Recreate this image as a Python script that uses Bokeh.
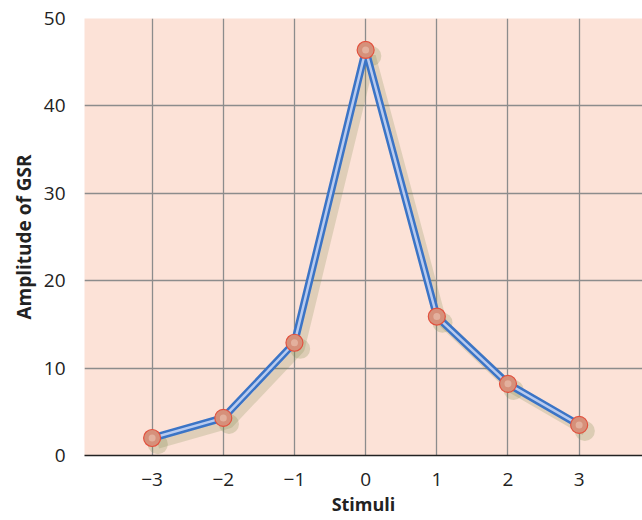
from bokeh.plotting import figure
from bokeh.models import FixedTicker, Range1d
from bokeh.embed import file_html
from bokeh.resources import INLINE

stimuli = [-3, -2, -1, 0, 1, 2, 3]
gsr = [2.0, 4.3, 12.9, 46.4, 15.9, 8.2, 3.5]
x_ticks = [-3, -2, -1, 0, 1, 2, 3]
x_labels = ["\u22123", "\u22122", "\u22121", "0", "1", "2", "3"]
y_ticks = [0, 10, 20, 30, 40, 50]

p = figure(width=642, height=520, output_backend="svg", toolbar_location=None,
           x_range=Range1d(-3.95, 3.89), y_range=Range1d(0, 50),
           min_border_left=84, min_border_right=0, min_border_top=18, min_border_bottom=65)
p.background_fill_color = "#fce2d7"
p.border_fill_color = "white"
p.outline_line_color = None

p.xaxis.ticker = FixedTicker(ticks=x_ticks)
p.xaxis.major_label_overrides = {t: l for t, l in zip(x_ticks, x_labels)}
p.yaxis.ticker = FixedTicker(ticks=y_ticks)
for ax in (p.xaxis, p.yaxis):
    ax.major_tick_line_color = None
    ax.minor_tick_line_color = None
    ax.major_label_text_font = "Open Sans"
    ax.major_label_text_font_size = "19px"
    ax.major_label_text_color = "#222222"
    ax.axis_label_text_font = "Open Sans"
    ax.axis_label_text_font_style = "bold"
    ax.axis_label_text_color = "#222222"
p.xaxis.axis_label_text_font_size = "18px"
p.yaxis.axis_label_text_font_size = "19px"
p.xaxis.axis_line_color = "#222222"
p.xaxis.axis_line_width = 1.5
p.yaxis.axis_line_color = None
p.xaxis.major_label_standoff = 11
p.yaxis.major_label_standoff = 13
p.xaxis.axis_label_standoff = 3
p.yaxis.axis_label_standoff = 4
p.xaxis.axis_label = "Stimuli"
p.yaxis.axis_label = "Amplitude of GSR"

p.grid.grid_line_color = "#8c8c8c"
p.grid.grid_line_width = 1.3
p.xgrid.ticker = FixedTicker(ticks=x_ticks)
p.ygrid.ticker = FixedTicker(ticks=[10, 20, 30, 40])

# soft shadow
sx = [v + 0.08 for v in stimuli]
sy = [v - 0.7 for v in gsr]
p.line(sx, sy, line_color="#7d8a4c", line_width=9, line_alpha=0.22)
p.scatter(sx, sy, size=20, fill_color="#7d8a4c", fill_alpha=0.25, line_color=None)

p.line(stimuli, gsr, line_color="#3b74c6", line_width=7.5, line_join="round")
p.line(stimuli, gsr, line_color="#b9cbef", line_width=2.5, line_join="round")
p.scatter(stimuli, gsr, size=17, fill_color="#d6907a", line_color="#e2513e", line_width=1.2)
p.scatter(stimuli, gsr, size=7, fill_color="#e6b8a6", line_color=None, fill_alpha=0.8)

open("out.html", "w").write(file_html(p, INLINE))
